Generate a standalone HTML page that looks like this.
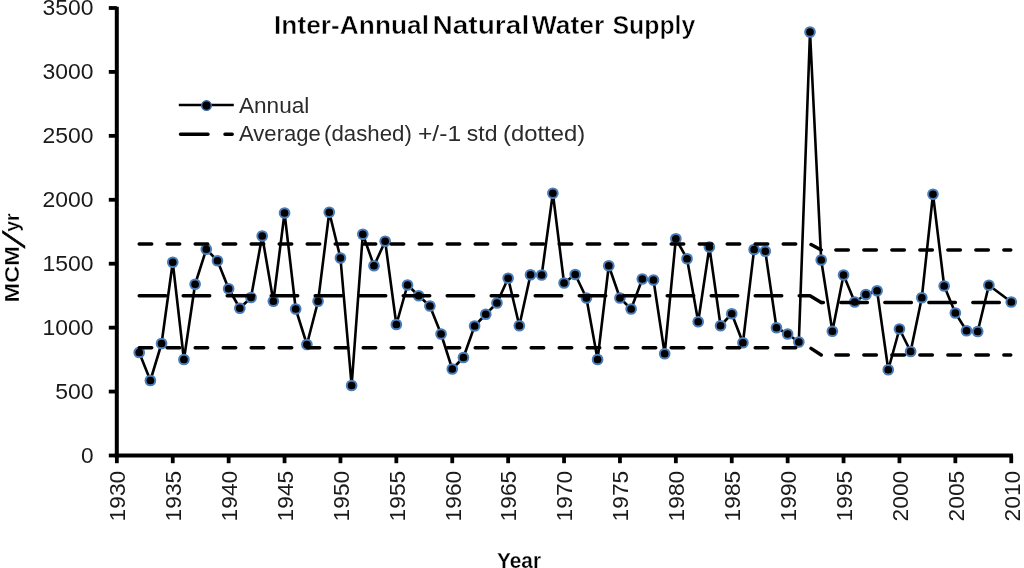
<!DOCTYPE html>
<html lang="en"><head><meta charset="utf-8"><title>Inter-Annual Natural Water Supply</title>
<style>html,body{margin:0;padding:0;background:#fff}body{width:1024px;height:568px;overflow:hidden}svg{display:block;filter:blur(0.3px)}text{font-family:"Liberation Sans",sans-serif}</style></head><body>
<svg width="1024" height="568" viewBox="0 0 1024 568">
<rect width="1024" height="568" fill="#fff"/>
<g stroke="#000" stroke-width="4" fill="none" stroke-linecap="butt">
<path d="M116.8 6.8V457.4"/>
<path d="M114.8 455.4H1012.95"/>
</g>
<g stroke="#000" stroke-width="3.8" fill="none">
<path d="M108.8 455.50H116.8"/>
<path d="M108.8 391.57H116.8"/>
<path d="M108.8 327.64H116.8"/>
<path d="M108.8 263.71H116.8"/>
<path d="M108.8 199.78H116.8"/>
<path d="M108.8 135.85H116.8"/>
<path d="M108.8 71.92H116.8"/>
<path d="M108.8 7.99H116.8"/>
<path d="M116.85 455.4V463.2"/>
<path d="M172.75 455.4V463.2"/>
<path d="M228.65 455.4V463.2"/>
<path d="M284.55 455.4V463.2"/>
<path d="M340.45 455.4V463.2"/>
<path d="M396.35 455.4V463.2"/>
<path d="M452.25 455.4V463.2"/>
<path d="M508.15 455.4V463.2"/>
<path d="M564.05 455.4V463.2"/>
<path d="M619.95 455.4V463.2"/>
<path d="M675.85 455.4V463.2"/>
<path d="M731.75 455.4V463.2"/>
<path d="M787.65 455.4V463.2"/>
<path d="M843.55 455.4V463.2"/>
<path d="M899.45 455.4V463.2"/>
<path d="M955.35 455.4V463.2"/>
<path d="M1011.25 455.4V463.2"/>
</g>
<g font-size="22.3" fill="#1a1a1a" text-anchor="end">
<text x="93.6" y="462.80" textLength="12.6" lengthAdjust="spacingAndGlyphs">0</text>
<text x="93.6" y="398.87" textLength="38.3" lengthAdjust="spacingAndGlyphs">500</text>
<text x="93.6" y="334.94" textLength="51.0" lengthAdjust="spacingAndGlyphs">1000</text>
<text x="93.6" y="271.01" textLength="51.0" lengthAdjust="spacingAndGlyphs">1500</text>
<text x="93.6" y="207.08" textLength="51.0" lengthAdjust="spacingAndGlyphs">2000</text>
<text x="93.6" y="143.15" textLength="51.0" lengthAdjust="spacingAndGlyphs">2500</text>
<text x="93.6" y="79.22" textLength="51.0" lengthAdjust="spacingAndGlyphs">3000</text>
<text x="93.6" y="15.29" textLength="51.0" lengthAdjust="spacingAndGlyphs">3500</text>
</g>
<g font-size="22.3" fill="#1a1a1a" text-anchor="end">
<text transform="translate(125.15 470.8) rotate(-90)" textLength="50.6" lengthAdjust="spacingAndGlyphs">1930</text>
<text transform="translate(181.05 470.8) rotate(-90)" textLength="50.6" lengthAdjust="spacingAndGlyphs">1935</text>
<text transform="translate(236.95 470.8) rotate(-90)" textLength="50.6" lengthAdjust="spacingAndGlyphs">1940</text>
<text transform="translate(292.85 470.8) rotate(-90)" textLength="50.6" lengthAdjust="spacingAndGlyphs">1945</text>
<text transform="translate(348.75 470.8) rotate(-90)" textLength="50.6" lengthAdjust="spacingAndGlyphs">1950</text>
<text transform="translate(404.65 470.8) rotate(-90)" textLength="50.6" lengthAdjust="spacingAndGlyphs">1955</text>
<text transform="translate(460.55 470.8) rotate(-90)" textLength="50.6" lengthAdjust="spacingAndGlyphs">1960</text>
<text transform="translate(516.45 470.8) rotate(-90)" textLength="50.6" lengthAdjust="spacingAndGlyphs">1965</text>
<text transform="translate(572.35 470.8) rotate(-90)" textLength="50.6" lengthAdjust="spacingAndGlyphs">1970</text>
<text transform="translate(628.25 470.8) rotate(-90)" textLength="50.6" lengthAdjust="spacingAndGlyphs">1975</text>
<text transform="translate(684.15 470.8) rotate(-90)" textLength="50.6" lengthAdjust="spacingAndGlyphs">1980</text>
<text transform="translate(740.05 470.8) rotate(-90)" textLength="50.6" lengthAdjust="spacingAndGlyphs">1985</text>
<text transform="translate(795.95 470.8) rotate(-90)" textLength="50.6" lengthAdjust="spacingAndGlyphs">1990</text>
<text transform="translate(851.85 470.8) rotate(-90)" textLength="50.6" lengthAdjust="spacingAndGlyphs">1995</text>
<text transform="translate(907.75 470.8) rotate(-90)" textLength="50.6" lengthAdjust="spacingAndGlyphs">2000</text>
<text transform="translate(963.65 470.8) rotate(-90)" textLength="50.6" lengthAdjust="spacingAndGlyphs">2005</text>
<text transform="translate(1019.55 470.8) rotate(-90)" textLength="50.6" lengthAdjust="spacingAndGlyphs">2010</text>
</g>
<g font-size="25.8" font-weight="bold" fill="#000" stroke="#fff" stroke-width="0.5">
<text x="274.0" y="33.8" textLength="155.0" lengthAdjust="spacingAndGlyphs">Inter-Annual</text>
<text x="432.5" y="33.8" textLength="96.7" lengthAdjust="spacingAndGlyphs">Natural</text>
<text x="531.8" y="33.8" textLength="72.6" lengthAdjust="spacingAndGlyphs">Water</text>
<text x="612.5" y="33.8" textLength="82.8" lengthAdjust="spacingAndGlyphs">Supply</text>
</g>
<text x="497" y="567.6" font-size="21.4" font-weight="bold" fill="#000" stroke="#fff" stroke-width="0.25" textLength="44" lengthAdjust="spacingAndGlyphs">Year</text>
<g transform="translate(19.2 302.6) rotate(-90)" font-size="20.6" font-weight="bold" fill="#000" stroke="#fff" stroke-width="0.3">
<text x="0" y="0" textLength="56.5" lengthAdjust="spacingAndGlyphs">MCM</text>
<text transform="matrix(1 0 -0.78 1.42 54.6 4.6)" x="0" y="0" stroke="#000" stroke-width="0.9">/</text>
<text x="70.9" y="0" textLength="18.4" lengthAdjust="spacingAndGlyphs">yr</text>
</g>
<path d="M178.8 105H233.8" stroke="#000" stroke-width="2.6" fill="none"/>
<circle cx="206.5" cy="105.6" r="4.8" fill="#000" stroke="#3f6fa8" stroke-width="1.4"/>
<path d="M180.5 134.3H208 M225 134.3H232.2" stroke="#000" stroke-width="3.5" stroke-linecap="round" fill="none"/>
<g font-size="22.5" fill="#2b2b2b">
<text x="239.0" y="112.5" textLength="70.3" lengthAdjust="spacingAndGlyphs">Annual</text>
<text x="239.0" y="141.3" textLength="81.8" lengthAdjust="spacingAndGlyphs">Average</text>
<text x="324.0" y="141.3" textLength="87.8" lengthAdjust="spacingAndGlyphs">(dashed)</text>
<text x="418.0" y="141.3" textLength="43.1" lengthAdjust="spacingAndGlyphs">+/-1</text>
<text x="466.8" y="141.3" textLength="30.6" lengthAdjust="spacingAndGlyphs">std</text>
<text x="503.0" y="141.3" textLength="82.1" lengthAdjust="spacingAndGlyphs">(dotted)</text>
</g>
<polyline points="139.21,352.5 150.39,380.5 161.57,343.5 172.75,262.25 183.93,359.5 195.11,284.25 206.29,249.25 217.47,260.75 228.65,288.75 239.83,308.25 251.01,297.5 262.19,236 273.37,301.25 284.55,213 295.73,309 306.91,344.5 318.09,301.25 329.27,212.25 340.45,258 351.63,385.5 362.81,234.25 373.99,265.75 385.17,241.25 396.35,324.5 407.53,285 418.71,295.75 429.89,306 441.07,334 452.25,369 463.43,357.5 474.61,326 485.79,314.25 496.97,303 508.15,278.25 519.33,325.75 530.51,274.75 541.69,275 552.87,193.25 564.05,283 575.23,274.5 586.41,298 597.59,359.5 608.77,265.75 619.95,298 631.13,309 642.31,279 653.49,280 664.67,353.75 675.85,238.75 687.03,258.75 698.21,321.75 709.39,247 720.57,325.75 731.75,313.75 742.93,342.75 754.11,249.5 765.29,251.25 776.47,327.75 787.65,334 798.83,342 810.01,32 821.19,260 832.37,331.25 843.55,275 854.73,302 865.91,294.5 877.09,290.75 888.27,369.75 899.45,329 910.63,351.5 921.81,297.75 932.99,194.25 944.17,286 955.35,313 966.53,330.75 977.71,331.5 988.89,285.25 1011.25,302" fill="none" stroke="#000" stroke-width="2.6" stroke-linejoin="round"/>
<g fill="#000" stroke="#4a7ebb" stroke-width="2">
<circle cx="139.21" cy="352.5" r="4.85"/>
<circle cx="150.39" cy="380.5" r="4.85"/>
<circle cx="161.57" cy="343.5" r="4.85"/>
<circle cx="172.75" cy="262.25" r="4.85"/>
<circle cx="183.93" cy="359.5" r="4.85"/>
<circle cx="195.11" cy="284.25" r="4.85"/>
<circle cx="206.29" cy="249.25" r="4.85"/>
<circle cx="217.47" cy="260.75" r="4.85"/>
<circle cx="228.65" cy="288.75" r="4.85"/>
<circle cx="239.83" cy="308.25" r="4.85"/>
<circle cx="251.01" cy="297.5" r="4.85"/>
<circle cx="262.19" cy="236" r="4.85"/>
<circle cx="273.37" cy="301.25" r="4.85"/>
<circle cx="284.55" cy="213" r="4.85"/>
<circle cx="295.73" cy="309" r="4.85"/>
<circle cx="306.91" cy="344.5" r="4.85"/>
<circle cx="318.09" cy="301.25" r="4.85"/>
<circle cx="329.27" cy="212.25" r="4.85"/>
<circle cx="340.45" cy="258" r="4.85"/>
<circle cx="351.63" cy="385.5" r="4.85"/>
<circle cx="362.81" cy="234.25" r="4.85"/>
<circle cx="373.99" cy="265.75" r="4.85"/>
<circle cx="385.17" cy="241.25" r="4.85"/>
<circle cx="396.35" cy="324.5" r="4.85"/>
<circle cx="407.53" cy="285" r="4.85"/>
<circle cx="418.71" cy="295.75" r="4.85"/>
<circle cx="429.89" cy="306" r="4.85"/>
<circle cx="441.07" cy="334" r="4.85"/>
<circle cx="452.25" cy="369" r="4.85"/>
<circle cx="463.43" cy="357.5" r="4.85"/>
<circle cx="474.61" cy="326" r="4.85"/>
<circle cx="485.79" cy="314.25" r="4.85"/>
<circle cx="496.97" cy="303" r="4.85"/>
<circle cx="508.15" cy="278.25" r="4.85"/>
<circle cx="519.33" cy="325.75" r="4.85"/>
<circle cx="530.51" cy="274.75" r="4.85"/>
<circle cx="541.69" cy="275" r="4.85"/>
<circle cx="552.87" cy="193.25" r="4.85"/>
<circle cx="564.05" cy="283" r="4.85"/>
<circle cx="575.23" cy="274.5" r="4.85"/>
<circle cx="586.41" cy="298" r="4.85"/>
<circle cx="597.59" cy="359.5" r="4.85"/>
<circle cx="608.77" cy="265.75" r="4.85"/>
<circle cx="619.95" cy="298" r="4.85"/>
<circle cx="631.13" cy="309" r="4.85"/>
<circle cx="642.31" cy="279" r="4.85"/>
<circle cx="653.49" cy="280" r="4.85"/>
<circle cx="664.67" cy="353.75" r="4.85"/>
<circle cx="675.85" cy="238.75" r="4.85"/>
<circle cx="687.03" cy="258.75" r="4.85"/>
<circle cx="698.21" cy="321.75" r="4.85"/>
<circle cx="709.39" cy="247" r="4.85"/>
<circle cx="720.57" cy="325.75" r="4.85"/>
<circle cx="731.75" cy="313.75" r="4.85"/>
<circle cx="742.93" cy="342.75" r="4.85"/>
<circle cx="754.11" cy="249.5" r="4.85"/>
<circle cx="765.29" cy="251.25" r="4.85"/>
<circle cx="776.47" cy="327.75" r="4.85"/>
<circle cx="787.65" cy="334" r="4.85"/>
<circle cx="798.83" cy="342" r="4.85"/>
<circle cx="810.01" cy="32" r="4.85"/>
<circle cx="821.19" cy="260" r="4.85"/>
<circle cx="832.37" cy="331.25" r="4.85"/>
<circle cx="843.55" cy="275" r="4.85"/>
<circle cx="854.73" cy="302" r="4.85"/>
<circle cx="865.91" cy="294.5" r="4.85"/>
<circle cx="877.09" cy="290.75" r="4.85"/>
<circle cx="888.27" cy="369.75" r="4.85"/>
<circle cx="899.45" cy="329" r="4.85"/>
<circle cx="910.63" cy="351.5" r="4.85"/>
<circle cx="921.81" cy="297.75" r="4.85"/>
<circle cx="932.99" cy="194.25" r="4.85"/>
<circle cx="944.17" cy="286" r="4.85"/>
<circle cx="955.35" cy="313" r="4.85"/>
<circle cx="966.53" cy="330.75" r="4.85"/>
<circle cx="977.71" cy="331.5" r="4.85"/>
<circle cx="988.89" cy="285.25" r="4.85"/>
<circle cx="1011.25" cy="302" r="4.85"/>
</g>
<path d="M139.21 244H810.01L821.19 250" stroke="#000" stroke-width="3.5" stroke-linecap="round" stroke-linejoin="round" fill="none" stroke-dasharray="12.5 15.5"/>
<path d="M821.19 250H1010.75" stroke="#000" stroke-width="3.5" stroke-linecap="round" stroke-linejoin="round" fill="none" stroke-dasharray="12.5 15.5" stroke-dashoffset="13.34"/>
<path d="M139.21 347.75H810.01L821.19 355" stroke="#000" stroke-width="3.5" stroke-linecap="round" stroke-linejoin="round" fill="none" stroke-dasharray="12.5 15.5"/>
<path d="M821.19 355H1010.75" stroke="#000" stroke-width="3.5" stroke-linecap="round" stroke-linejoin="round" fill="none" stroke-dasharray="12.5 15.5" stroke-dashoffset="13.34"/>
<path d="M139.21 295.75H810.01L821.19 302.5" stroke="#000" stroke-width="3.5" stroke-linecap="round" stroke-linejoin="round" fill="none" stroke-dasharray="26.5 17.5"/>
<path d="M821.19 302.5H1010.75" stroke="#000" stroke-width="3.5" stroke-linecap="round" stroke-linejoin="round" fill="none" stroke-dasharray="26.5 17.5" stroke-dashoffset="24.34"/>
</svg></body></html>
